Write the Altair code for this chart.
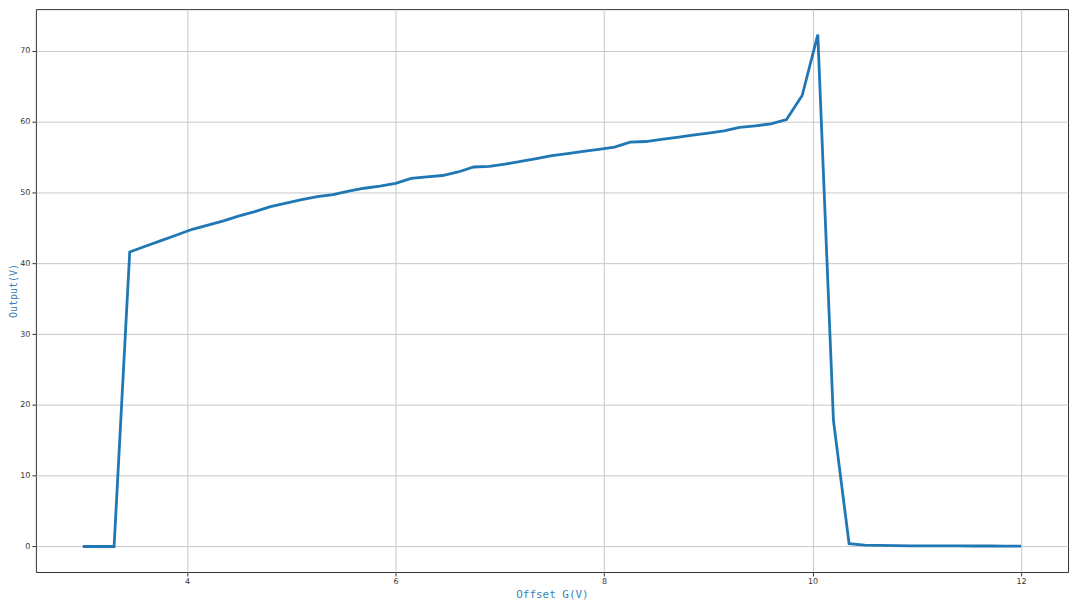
import pandas as pd
import altair as alt

# ------- data -------------------------------
offset_g = [round(3.0 + 0.15 * i, 2) for i in range(61)]

output_v = [
    0.0, 0.0, 0.0, 41.6, 42.4, 43.2, 44.0, 44.8, 45.4, 46.0,
    46.7, 47.3, 48.0, 48.5, 49.0, 49.4, 49.7, 50.2, 50.6, 50.9,
    51.3, 52.0, 52.2, 52.4, 52.9, 53.6, 53.7, 54.0, 54.4, 54.8,
    55.2, 55.5, 55.8, 56.1, 56.4, 57.1, 57.2, 57.5, 57.8, 58.1,
    58.4, 58.7, 59.2, 59.4, 59.7, 60.3, 63.7, 72.3, 17.8, 0.4,
    0.2, 0.15, 0.12, 0.1, 0.1, 0.08, 0.08, 0.07, 0.07, 0.06,
    0.06,
]

x_ticks = [4, 6, 8, 10, 12]
y_ticks = [0, 10, 20, 30, 40, 50, 60, 70]

df = pd.DataFrame({"offset": offset_g, "output": output_v})

title_font = "DejaVu Sans Mono"
title_color = "#3b7fb6"

chart = alt.Chart(df).mark_line(color="#1f77b4", strokeWidth=2.8).encode(
    x=alt.X(
        "offset:Q",
        title="Offset G(V)",
        scale=alt.Scale(domain=[2.55, 12.45], nice=False, zero=False),
        axis=alt.Axis(values=x_ticks, format="d", titleFont=title_font,
                      titleColor=title_color, titleFontSize=11,
                      titleFontWeight="normal", titlePadding=3),
    ),
    y=alt.Y(
        "output:Q",
        title="Output(V)",
        scale=alt.Scale(domain=[-3.6, 75.9], nice=False, zero=False),
        axis=alt.Axis(values=y_ticks, format="d", titleFont=title_font,
                      titleColor=title_color, titleFontSize=10,
                      titleFontWeight="normal", titleX=-22,
                      titleBaseline="middle"),
    ),
).properties(
    width=1036,
    height=565,
    autosize=alt.AutoSizeParams(type="none"),
    padding={"left": 28, "top": 0, "right": 4, "bottom": 30},
).configure_view(
    stroke="#333333",
    strokeWidth=1,
).configure_axis(
    domain=False,
    grid=True,
    gridColor="#c8c8c8",
    gridWidth=1,
    ticks=True,
    tickColor="#333333",
    tickSize=4,
    labelFont="DejaVu Sans",
    labelFontSize=8,
    labelColor="#333333",
    labelPadding=2,
)

chart.save("out.html", embed_options={"renderer": "svg", "actions": False})
